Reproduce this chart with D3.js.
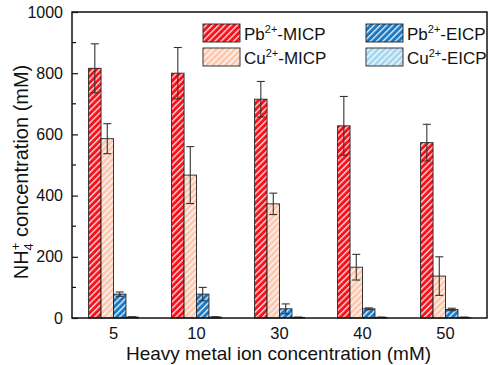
<!DOCTYPE html>
<html><head><meta charset="utf-8">
<script src="https://cdn.jsdelivr.net/npm/d3@7"></script>
<style>body{margin:0;background:#fff}svg{display:block;font-family:"Liberation Sans",Arial,sans-serif}</style>
</head><body><svg id="c" width="491" height="365"></svg>
<script>
const categories = ["5","10","30","40","50"];
const seriesNames = ["Pb-MICP","Cu-MICP","Pb-EICP","Cu-EICP"];
const pbMicp = [816, 800, 715, 628, 573];
const pbMicpErr = [80, 84, 58, 96, 60];
const cuMicp = [586, 467, 373, 166, 137];
const cuMicpErr = [49, 93, 35, 42, 63];
const pbEicp = [78, 78, 30, 30, 28];
const pbEicpErr = [7, 22, 16, 3, 4];
const cuEicp = [3, 3, 2, 2, 2];
const cuEicpErr = [1, 1, 1, 1, 1];
const yTicks = [0,200,400,600,800,1000];
const yMinor = [100,300,500,700,900];

const colors = {"Pb-MICP":"#f8101a","Cu-MICP":"#fcc8b0","Pb-EICP":"#1a78c2","Cu-EICP":"#a6d6ee"};
const vals = {"Pb-MICP":pbMicp,"Cu-MICP":cuMicp,"Pb-EICP":pbEicp,"Cu-EICP":cuEicp};
const errs = {"Pb-MICP":pbMicpErr,"Cu-MICP":cuMicpErr,"Pb-EICP":pbEicpErr,"Cu-EICP":cuEicpErr};

const svg = d3.select("#c");
const L=72,R=487,T=12,B=318;
const x = d3.scaleBand().domain(categories).range([L,R]).paddingInner(0.4).paddingOuter(0.2);
const xs = d3.scaleBand().domain(seriesNames).range([0,x.bandwidth()]);
const y = d3.scaleLinear().domain([0,1000]).range([B,T]);

const defs = svg.append("defs");
seriesNames.forEach((s,i)=>{
  const p = defs.append("pattern").attr("id","h"+i).attr("patternUnits","userSpaceOnUse")
    .attr("width",4.4).attr("height",4.4).attr("patternTransform","rotate(45)");
  p.append("rect").attr("width",4.4).attr("height",4.4).attr("fill",colors[s]);
  p.append("rect").attr("x",0).attr("width",1.4).attr("height",4.4).attr("fill","#fff").attr("opacity",0.85);
});

// bars
seriesNames.forEach((s,i)=>{
  const g = svg.append("g");
  g.selectAll("rect").data(categories).join("rect")
    .attr("x",c=>x(c)+xs(s)).attr("width",xs.bandwidth())
    .attr("y",(c,j)=>y(vals[s][j])).attr("height",(c,j)=>B-y(vals[s][j]))
    .attr("fill","url(#h"+i+")").attr("stroke","#222").attr("stroke-width",0.9);
});
// error bars
seriesNames.forEach((s,i)=>{
  categories.forEach((c,j)=>{
    const cx = x(c)+xs(s)+xs.bandwidth()/2;
    const v = vals[s][j], e = errs[s][j];
    const g = svg.append("g").attr("stroke","#333").attr("stroke-width",1.1);
    g.append("line").attr("x1",cx).attr("x2",cx).attr("y1",y(v+e)).attr("y2",y(Math.max(0,v-e)));
    g.append("line").attr("x1",cx-4).attr("x2",cx+4).attr("y1",y(v+e)).attr("y2",y(v+e));
    g.append("line").attr("x1",cx-4).attr("x2",cx+4).attr("y1",y(Math.max(0,v-e))).attr("y2",y(Math.max(0,v-e)));
  });
});

// frame
svg.append("rect").attr("x",L).attr("y",T).attr("width",R-L).attr("height",B-T)
  .attr("fill","none").attr("stroke","#111").attr("stroke-width",1.5);

// y axis
const ya = svg.append("g").attr("transform",`translate(${L},0)`)
  .call(d3.axisLeft(y).tickValues(yTicks).tickFormat(d3.format("d")).tickSizeInner(-6).tickSizeOuter(0).tickPadding(9));
ya.select(".domain").remove();
ya.selectAll("line").attr("stroke","#111").attr("stroke-width",1.2);
ya.selectAll("text").attr("font-size",16).attr("fill","#111").style("font-family","Liberation Sans, Arial");
svg.append("g").selectAll("line").data(yMinor).join("line")
  .attr("x1",L).attr("x2",L+4).attr("y1",d=>y(d)).attr("y2",d=>y(d)).attr("stroke","#111").attr("stroke-width",1.2);

// x axis labels
const xa = svg.append("g").attr("transform",`translate(0,${B})`)
  .call(d3.axisBottom(x).tickSize(0).tickPadding(9));
xa.select(".domain").remove();
xa.selectAll("text").attr("font-size",16.5).attr("fill","#111").style("font-family","Liberation Sans, Arial");

// titles
svg.append("text").attr("x",(L+R)/2-1).attr("y",360).attr("text-anchor","middle")
  .attr("font-size",19).attr("fill","#111").text("Heavy metal ion concentration (mM)");
const yt = svg.append("text").attr("transform",`translate(28,${(T+B)/2+7}) rotate(-90)`)
  .attr("text-anchor","middle").attr("font-size",20).attr("fill","#111");
yt.append("tspan").text("NH");
yt.append("tspan").attr("font-size",13).attr("dy",5).text("4");
yt.append("tspan").attr("font-size",13).attr("dy",-13).attr("dx",-7).text("+");
yt.append("tspan").attr("dy",8).text(" concentration (mM)");

// legend
const leg = [
  {s:"Pb-MICP",el:"Pb",x:203,y:24},{s:"Pb-EICP",el:"Pb",x:366,y:24},
  {s:"Cu-MICP",el:"Cu",x:203,y:48},{s:"Cu-EICP",el:"Cu",x:366,y:48}];
leg.forEach(d=>{
  const i = seriesNames.indexOf(d.s);
  svg.append("rect").attr("x",d.x).attr("y",d.y).attr("width",37).attr("height",18)
    .attr("fill","url(#h"+i+")").attr("stroke","#222").attr("stroke-width",0.9);
  const t = svg.append("text").attr("x",d.x+41).attr("y",d.y+16).attr("font-size",17).attr("fill","#111");
  t.append("tspan").text(d.el);
  t.append("tspan").attr("font-size",11).attr("dy",-7).text("2+");
  t.append("tspan").attr("dy",7).text("-"+d.s.split("-")[1]);
});
</script></body></html>
